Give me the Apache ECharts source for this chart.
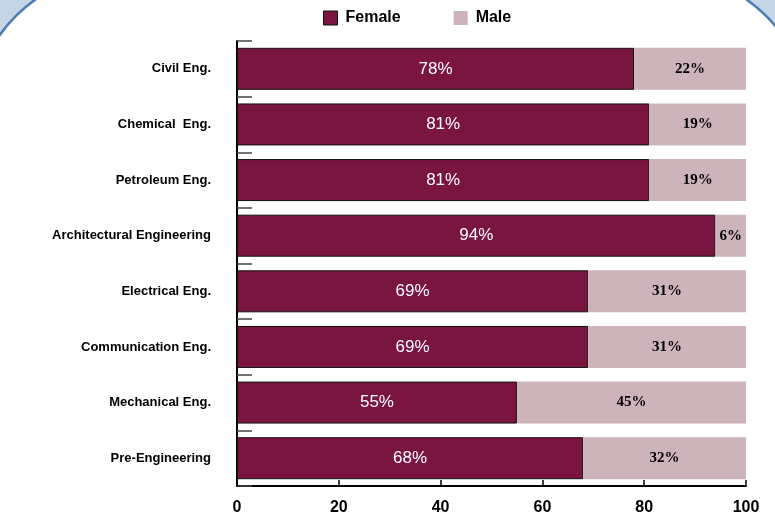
<!DOCTYPE html>
<html>
<head>
<meta charset="utf-8">
<script src="https://cdn.jsdelivr.net/npm/echarts@6/dist/echarts.min.js"></script>
<style>
html,body{margin:0;padding:0;background:#fff;}
#main{width:775px;height:519px;}
</style>
</head>
<body>
<div id="main"></div>
<script>
var categories = ['Civil Eng.', 'Chemical  Eng.', 'Petroleum Eng.', 'Architectural Engineering', 'Electrical Eng.', 'Communication Eng.', 'Mechanical Eng.', 'Pre-Engineering'];
var female = [78, 81, 81, 94, 69, 69, 55, 68];
var male = [22, 19, 19, 6, 31, 31, 45, 32];
var xTicks = [0, 20, 40, 60, 80, 100];

var chart = echarts.init(document.getElementById('main'), null, {renderer: 'canvas'});
chart.setOption({
  backgroundColor: '#C6D5E6',
  animation: false,
  graphic: [{
    type: 'rect',
    z: -10,
    silent: true,
    shape: {x: -28, y: -28, width: 838, height: 1200, r: 150},
    style: {fill: '#ffffff', stroke: '#4A7DB3', lineWidth: 2.5}
  }],
  legend: {
    left: 318,
    top: 5,
    itemWidth: 14,
    itemHeight: 14,
    itemGap: 53,
    textStyle: {fontFamily: 'Liberation Sans, Arial', fontWeight: 'bold', fontSize: 16, color: '#000', padding: [0, 0, 0, 3]},
    data: [
      {name: 'Female', icon: 'rect', itemStyle: {color: '#7A1440', borderColor: '#111', borderWidth: 1}},
      {name: 'Male', icon: 'rect', itemStyle: {color: '#CDB4BA', borderWidth: 0}}
    ]
  },
  grid: {left: 237, right: 29, top: 41, bottom: 33, containLabel: false},
  xAxis: {
    type: 'value',
    min: 0, max: 100, interval: 20,
    axisLine: {show: true, lineStyle: {color: '#000', width: 2}},
    axisTick: {show: true, inside: true, length: 6, lineStyle: {color: '#000', width: 1.5}},
    splitLine: {show: false},
    axisLabel: {
      margin: 14,
      fontFamily: 'Liberation Sans, Arial', fontWeight: 'bold', fontSize: 16, color: '#000',
      formatter: function (v) { return xTicks.indexOf(v) >= 0 ? String(v) : ''; }
    }
  },
  yAxis: {
    type: 'category',
    inverse: true,
    data: categories,
    axisLine: {show: true, lineStyle: {color: '#000', width: 2}},
    axisTick: {show: true, inside: true, length: 15, lineStyle: {color: '#444', width: 1.5}},
    axisLabel: {margin: 26, fontFamily: 'Liberation Sans, Arial', fontWeight: 'bold', fontSize: 13, color: '#000'}
  },
  series: [
    {
      name: 'Female', type: 'bar', stack: 'total', barWidth: 42,
      data: female,
      itemStyle: {color: '#7A1440', borderColor: '#111', borderWidth: 1},
      label: {show: true, position: 'inside', formatter: '{c}%', color: '#fff', fontFamily: 'Liberation Sans, Arial', fontSize: 17}
    },
    {
      name: 'Male', type: 'bar', stack: 'total', barWidth: 42,
      data: male,
      itemStyle: {color: '#CDB4BA'},
      label: {show: true, position: 'inside', formatter: '{c}%', color: '#000', fontFamily: 'Liberation Serif, Times New Roman', fontWeight: 'bold', fontSize: 15}
    }
  ]
});
</script>
</body>
</html>
